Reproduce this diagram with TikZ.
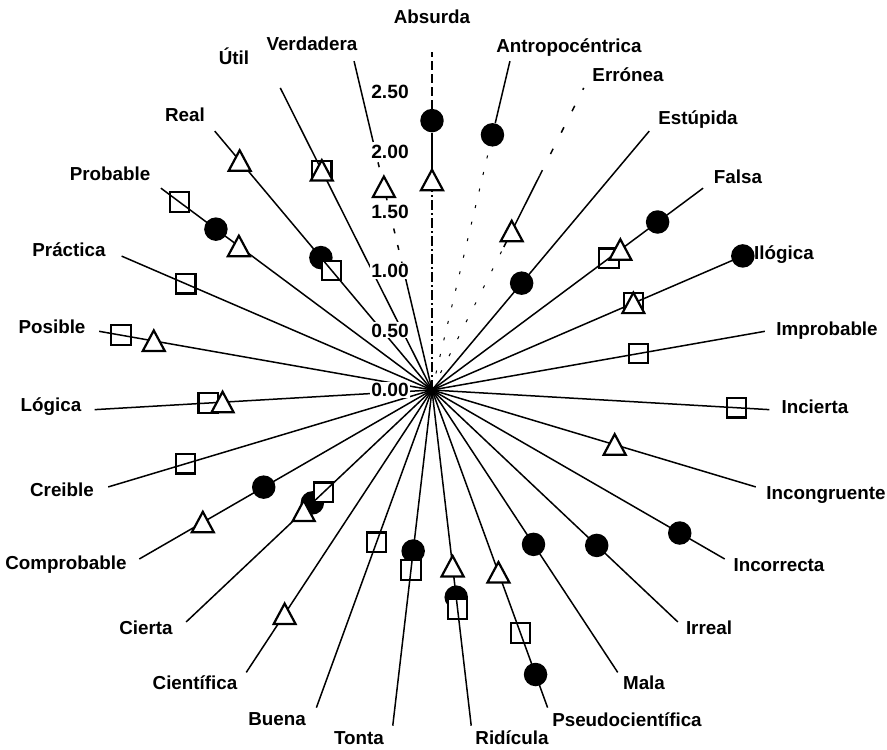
\documentclass[tikz,border=0pt]{standalone}
\usepackage{fontspec}
\newfontfamily\labfont{Liberation Sans}
\begin{document}
\begin{tikzpicture}[x=1pt,y=1pt,
  ray/.style={line width=1.5pt},
  lab/.style={font={\labfont\bfseries\fontsize{18.8}{22}\selectfont}, inner sep=0pt, text height=13.6pt, text depth=0pt},
  tick/.style={font={\labfont\bfseries\fontsize{19.2}{22}\selectfont}, fill=white, inner sep=1pt, text height=13.8pt, text depth=0pt},
  dot/.style={circle, fill=black, inner sep=0pt, minimum size=23.5pt},
  sq/.style={rectangle, draw=black, fill=white, line width=2.2pt, inner sep=0pt, minimum size=19.5pt},
  tri/.style={draw=black, fill=white, line width=2.2pt, line join=miter}
]
\useasboundingbox[fill=white] (-432,-360) rectangle (455,390);

% centre and ray ends (27 spokes, clockwise from the top)
\coordinate (O) at (0,0);
\foreach \i in {0,...,26}
  \coordinate (e\i) at ({90-\i*360/27}:338);

% spoke labels
\foreach \i/\x/\y/\txt in {
  0/0/373/Absurda, 1/137/344/Antropocéntrica, 2/196/315/Errónea,
  3/266/272/Estúpida, 4/306/213/Falsa, 5/352/137/Ilógica,
  6/395/61/Improbable, 7/383/-17/Incierta, 8/394/-103/Incongruente,
  9/347/-175/Incorrecta, 10/277/-238/Irreal, 11/212/-293/Mala,
  12/195/-330/Pseudocientífica, 13/80/-348/Ridícula, 14/-73/-348/Tonta,
  15/-155/-329/Buena, 16/-237/-293/Científica, 17/-286/-238/Cierta,
  18/-366/-173/Comprobable, 19/-370/-100/Creible, 20/-381/-15/Lógica,
  21/-380/63/Posible, 22/-363/140/Práctica, 23/-322/216/Probable,
  24/-247/275/Real, 25/-198/332/Útil, 26/-120/346/Verdadera}
  \node[lab] (l\i) at (\x,\y) {\txt};

% triangle positions
\foreach \i/\v in {0/1.76, 2/1.49, 4/1.97, 5/1.84, 8/1.60, 12/1.63, 13/1.49,
  16/2.25, 17/1.48, 18/2.22, 20/1.76, 21/2.37, 23/2.02, 24/2.51, 25/2.06, 26/1.75}
  \coordinate (t\i) at ({90-\i*360/27}:{\v*119.2});

% filled circles
\foreach \i/\v in {0/2.26, 1/2.20, 3/1.17, 4/2.36, 5/2.84, 9/2.40, 10/1.90,
  11/1.55, 12/2.54, 13/1.75, 14/1.36, 17/1.38, 18/1.63, 23/2.26, 24/1.45}
  \node[dot] (c\i) at ({90-\i*360/27}:{\v*119.2}) {};

% squares
\foreach \i/\v in {4/1.85, 5/1.84, 6/1.76, 7/2.56, 12/2.17, 13/1.85, 14/1.52,
  15/1.36, 17/1.25, 19/2.16, 20/1.88, 21/2.65, 22/2.25, 23/2.64, 24/1.31, 25/2.06}
  \node[sq] (s\i) at ({90-\i*360/27}:{\v*119.2}) {};

% spokes
\foreach \i in {3,...,25}
  \draw[ray] (O) -- (e\i);
\draw[ray, dash pattern=on 9pt off 4pt] (c0) -- (e0);
\draw[ray] (t0) -- (c0);
\draw[ray, dash pattern=on 10pt off 3pt on 2pt off 3pt] (O) -- (t0);
\draw[ray] (c1) -- (e1);
\draw[ray, line width=1pt, dash pattern=on 3pt off 14pt] (O) -- (c1);
\coordinate (m2a) at ({90-2*360/27}:160);
\coordinate (m2b) at ({90-2*360/27}:240);
\draw[ray, dash pattern=on 6pt off 18pt] (m2b) -- (e2);
\draw[ray] (m2a) -- (m2b);
\draw[ray, line width=1pt, dash pattern=on 3pt off 16pt] (O) -- (m2a);
\coordinate (m26a) at ({90-26*360/27}:110);
\coordinate (m26b) at ({90-26*360/27}:255);
\draw[ray] (O) -- (m26a);
\draw[ray, dash pattern=on 5pt off 12pt] (m26a) -- (m26b);
\draw[ray] (m26b) -- (e26);
\fill (O) circle (3.5pt);

% radial scale
\foreach \k/\txt in {0/0.00, 1/0.50, 2/1.00, 3/1.50, 4/2.00, 5/2.50}
  \node[tick] (k\k) at (-42,\k*59.6) {\txt};

% open triangles
\foreach \i in {0,2,4,5,8,12,13,16,17,18,20,21,23,24,25,26}
  \draw[tri, shift={(t\i)}] (0,10.5) -- (-11,-10) -- (11,-10) -- cycle;
\end{tikzpicture}
\end{document}
